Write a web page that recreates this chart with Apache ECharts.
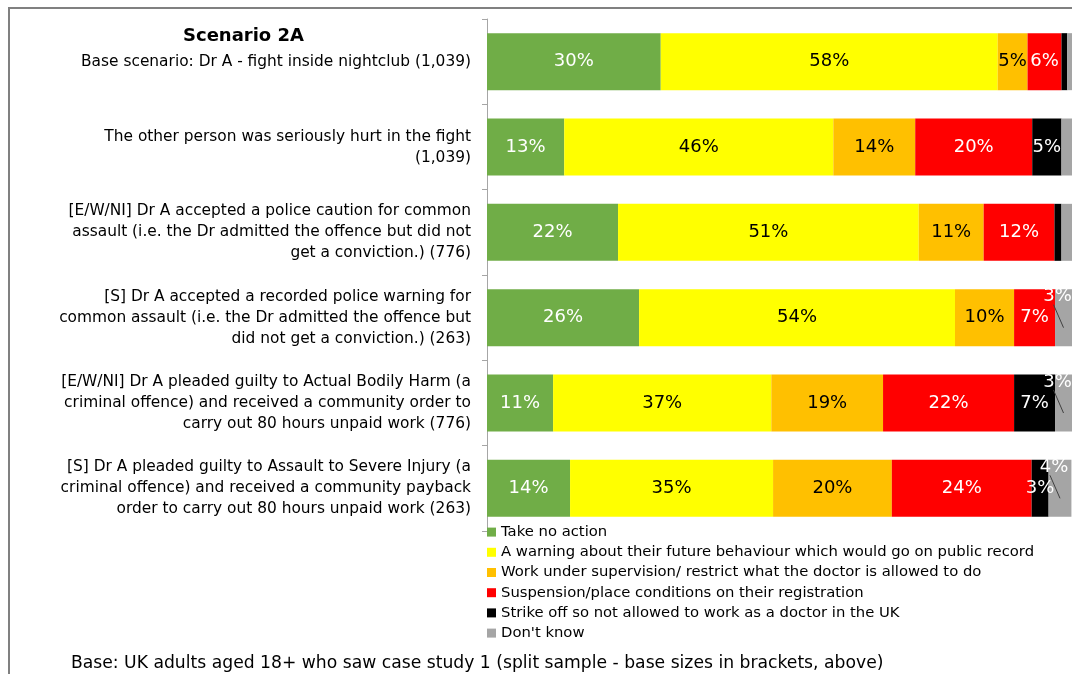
<!DOCTYPE html>
<html>
<head>
<meta charset="utf-8">
<script src="https://cdn.jsdelivr.net/npm/echarts@6/dist/echarts.min.js"></script>
<style>
  html, body { margin: 0; padding: 0; background: #fff; }
  #chart { width: 1072px; height: 674px; }
</style>
</head>
<body>
<div id="chart"></div>
<script>
const categories = [
  "Base scenario: Dr A - fight inside nightclub (1,039)",
  "The other person was seriously hurt in the fight\n(1,039)",
  "[E/W/NI] Dr A accepted a police caution for common\nassault (i.e. the Dr admitted the offence but did not\nget a conviction.) (776)",
  "[S] Dr A accepted a recorded police warning for\ncommon assault (i.e. the Dr admitted the offence but\ndid not get a conviction.) (263)",
  "[E/W/NI] Dr A pleaded guilty to Actual Bodily Harm (a\ncriminal offence) and received a community order to\ncarry out 80 hours unpaid work (776)",
  "[S] Dr A pleaded guilty to Assault to Severe Injury (a\ncriminal offence) and received a community payback\norder to carry out 80 hours unpaid work (263)"
];

const seriesNames = [
  "Take no action",
  "A warning about their future behaviour which would go on public record",
  "Work under supervision/ restrict what the doctor is allowed to do",
  "Suspension/place conditions on their registration",
  "Strike off so not allowed to work as a doctor in the UK",
  "Don't know"
];

const takeNoAction = [29.7, 13.2, 22.4, 26.0, 11.3, 14.2];
const warning = [57.6, 46.0, 51.4, 54.0, 37.3, 34.7];
const supervision = [5.1, 14.0, 11.1, 10.1, 19.1, 20.3];
const suspension = [5.8, 20.0, 12.1, 7.0, 22.4, 23.9];
const strikeOff = [1.0, 5.0, 1.2, 0, 7.0, 2.9];
const dontKnow = [0.8, 1.8, 1.8, 2.9, 2.9, 3.9];

const seriesValues = [takeNoAction, warning, supervision, suspension, strikeOff, dontKnow];
const colors = ["#70AD47", "#FFFF00", "#FFC000", "#FF0000", "#000000", "#A5A5A5"];
const labelColors = ["#ffffff", "#000000", "#000000", "#ffffff", "#ffffff", "#ffffff"];

const chart = echarts.init(document.getElementById("chart"));

const series = seriesValues.map((vals, i) => ({
  name: seriesNames[i],
  type: "bar",
  stack: "total",
  barWidth: 57,
  data: vals,
  itemStyle: { color: colors[i] },
  label: {
    show: true,
    position: "inside",
    color: labelColors[i],
    fontFamily: "DejaVu Sans",
    fontSize: 18,
    formatter: (p) => (p.value >= 2.5 ? Math.round(p.value) + "%" : "")
  },
  labelLayout: i === 5 ? function () { return { dx: -6, dy: -21 }; } : undefined
}));

// leader lines for the small "Don't know" labels that sit above their segment
series.push({
  type: "custom",
  silent: true,
  z: 5,
  data: dontKnow.map((v, idx) => {
    let start = 0;
    for (let s = 0; s < 5; s++) start += seriesValues[s][idx];
    return [start + v / 2, idx, v];
  }),
  renderItem: function (params, api) {
    if (api.value(2) < 2.5) return null;
    const c = api.coord([api.value(0), api.value(1)]);
    return {
      type: "line",
      shape: { x1: c[0] - 10, y1: c[1] - 13, x2: c[0], y2: c[1] + 10 },
      style: { stroke: "#404040", lineWidth: 1 }
    };
  }
});

const option = {
  animation: false,
  textStyle: { fontFamily: "DejaVu Sans" },
  title: [
    {
      text: "Scenario 2A",
      left: 178,
      top: 22,
      textStyle: { fontFamily: "DejaVu Sans", fontSize: 18, fontWeight: "bold", color: "#000" }
    },
    {
      text: "Base: UK adults aged 18+ who saw case study 1 (split sample - base sizes in brackets, above)",
      left: 66,
      top: 650,
      textStyle: { fontFamily: "DejaVu Sans", fontSize: 17.2, fontWeight: "normal", color: "#000" }
    }
  ],
  graphic: [
    {
      type: "rect",
      shape: { x: 9, y: 8, width: 1200, height: 800 },
      style: { fill: "none", stroke: "#808080", lineWidth: 2 },
      silent: true,
      z: -1
    }
  ],
  legend: {
    orient: "vertical",
    left: 482,
    top: 519,
    itemWidth: 9,
    itemHeight: 9,
    itemGap: 4,
    icon: "rect",
    data: seriesNames,
    textStyle: { fontFamily: "DejaVu Sans", fontSize: 14.8, color: "#000", lineHeight: 16.2 }
  },
  grid: { left: 487, right: 0, top: 19, bottom: 143 },
  xAxis: { type: "value", min: 0, max: 100, show: false },
  yAxis: {
    type: "category",
    inverse: true,
    data: categories,
    axisLine: { show: true, lineStyle: { color: "#A6A6A6", width: 1 } },
    axisTick: { show: true, length: 5, lineStyle: { color: "#A6A6A6" } },
    axisLabel: {
      margin: 16,
      color: "#000",
      fontFamily: "DejaVu Sans",
      fontSize: 15.4,
      lineHeight: 21,
      align: "right"
    }
  },
  series: series
};

chart.setOption(option);
</script>
</body>
</html>
